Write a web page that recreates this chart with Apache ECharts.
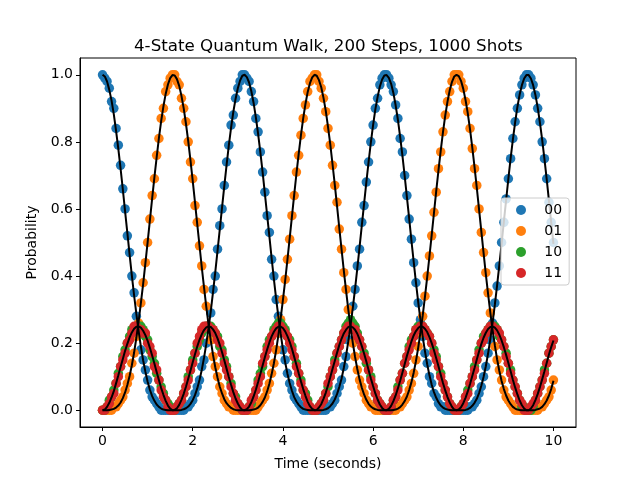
<!DOCTYPE html>
<html style="height: 100%">
<head>
    <meta charset="utf-8">
</head>
<body style="height: 100%; margin: 0; background: #fff">
    <div id="container" style="width: 640px; height: 480px"></div>
    <script src="https://cdn.jsdelivr.net/npm/echarts@6/dist/echarts.min.js"></script>
    <script type="text/javascript">
        // time axis, 200 steps of 0.05 s
        var time = [
            0.00, 0.05, 0.10, 0.15, 0.20, 0.25, 0.30, 0.35, 0.40, 0.45, 0.50, 0.55, 0.60, 0.65, 0.70, 0.75, 0.80, 0.85, 0.90, 0.95,
            1.00, 1.05, 1.10, 1.15, 1.20, 1.25, 1.30, 1.35, 1.40, 1.45, 1.50, 1.55, 1.60, 1.65, 1.70, 1.75, 1.80, 1.85, 1.90, 1.95,
            2.00, 2.05, 2.10, 2.15, 2.20, 2.25, 2.30, 2.35, 2.40, 2.45, 2.50, 2.55, 2.60, 2.65, 2.70, 2.75, 2.80, 2.85, 2.90, 2.95,
            3.00, 3.05, 3.10, 3.15, 3.20, 3.25, 3.30, 3.35, 3.40, 3.45, 3.50, 3.55, 3.60, 3.65, 3.70, 3.75, 3.80, 3.85, 3.90, 3.95,
            4.00, 4.05, 4.10, 4.15, 4.20, 4.25, 4.30, 4.35, 4.40, 4.45, 4.50, 4.55, 4.60, 4.65, 4.70, 4.75, 4.80, 4.85, 4.90, 4.95,
            5.00, 5.05, 5.10, 5.15, 5.20, 5.25, 5.30, 5.35, 5.40, 5.45, 5.50, 5.55, 5.60, 5.65, 5.70, 5.75, 5.80, 5.85, 5.90, 5.95,
            6.00, 6.05, 6.10, 6.15, 6.20, 6.25, 6.30, 6.35, 6.40, 6.45, 6.50, 6.55, 6.60, 6.65, 6.70, 6.75, 6.80, 6.85, 6.90, 6.95,
            7.00, 7.05, 7.10, 7.15, 7.20, 7.25, 7.30, 7.35, 7.40, 7.45, 7.50, 7.55, 7.60, 7.65, 7.70, 7.75, 7.80, 7.85, 7.90, 7.95,
            8.00, 8.05, 8.10, 8.15, 8.20, 8.25, 8.30, 8.35, 8.40, 8.45, 8.50, 8.55, 8.60, 8.65, 8.70, 8.75, 8.80, 8.85, 8.90, 8.95,
            9.00, 9.05, 9.10, 9.15, 9.20, 9.25, 9.30, 9.35, 9.40, 9.45, 9.50, 9.55, 9.60, 9.65, 9.70, 9.75, 9.80, 9.85, 9.90, 9.95,
            10.00
        ];

        // measured probabilities (1000 shots)
        var shots00 = [
            1.00, 0.99, 0.98, 0.96, 0.92, 0.90, 0.84, 0.79, 0.73, 0.66, 0.60, 0.52, 0.47, 0.40, 0.35, 0.28, 0.24, 0.18, 0.15, 0.12,
            0.09, 0.06, 0.04, 0.03, 0.02, 0.01, 0.00, 0.00, 0.00, 0.00, 0.00, 0.00, 0.00, 0.00, 0.00, 0.00, 0.00, 0.01, 0.01, 0.02,
            0.03, 0.05, 0.07, 0.09, 0.13, 0.15, 0.20, 0.25, 0.29, 0.36, 0.40, 0.48, 0.55, 0.60, 0.67, 0.74, 0.79, 0.85, 0.88, 0.93,
            0.96, 0.98, 1.00, 1.00, 0.99, 0.98, 0.95, 0.92, 0.87, 0.83, 0.77, 0.71, 0.65, 0.58, 0.53, 0.45, 0.40, 0.33, 0.28, 0.23,
            0.18, 0.15, 0.11, 0.08, 0.06, 0.04, 0.03, 0.02, 0.01, 0.00, 0.00, 0.00, 0.00, 0.00, 0.00, 0.00, 0.00, 0.00, 0.00, 0.00,
            0.01, 0.01, 0.02, 0.03, 0.05, 0.07, 0.09, 0.13, 0.16, 0.21, 0.25, 0.31, 0.36, 0.43, 0.48, 0.56, 0.61, 0.68, 0.74, 0.80,
            0.85, 0.90, 0.93, 0.97, 0.99, 1.00, 1.00, 0.99, 0.97, 0.95, 0.91, 0.87, 0.81, 0.77, 0.70, 0.64, 0.57, 0.51, 0.44, 0.38,
            0.32, 0.27, 0.22, 0.17, 0.14, 0.10, 0.08, 0.05, 0.04, 0.02, 0.01, 0.01, 0.00, 0.00, 0.00, 0.00, 0.00, 0.00, 0.00, 0.00,
            0.00, 0.00, 0.00, 0.01, 0.01, 0.02, 0.03, 0.05, 0.07, 0.10, 0.13, 0.17, 0.21, 0.26, 0.32, 0.37, 0.43, 0.50, 0.56, 0.63,
            0.69, 0.75, 0.81, 0.86, 0.90, 0.94, 0.97, 0.99, 1.00, 1.00, 0.99, 0.97, 0.94, 0.90, 0.86, 0.80, 0.75, 0.69, 0.62, 0.56,
            0.50
        ];
        var shots01 = [
            0.00, 0.00, 0.00, 0.00, 0.00, 0.01, 0.01, 0.02, 0.03, 0.04, 0.06, 0.08, 0.10, 0.14, 0.17, 0.22, 0.26, 0.32, 0.38, 0.44,
            0.50, 0.57, 0.64, 0.69, 0.76, 0.81, 0.87, 0.90, 0.95, 0.97, 0.99, 1.00, 1.00, 0.98, 0.97, 0.93, 0.90, 0.86, 0.80, 0.74,
            0.69, 0.61, 0.56, 0.49, 0.43, 0.36, 0.31, 0.25, 0.21, 0.16, 0.13, 0.10, 0.07, 0.05, 0.03, 0.02, 0.01, 0.01, 0.00, 0.00,
            0.00, 0.00, 0.00, 0.00, 0.00, 0.00, 0.00, 0.00, 0.00, 0.01, 0.02, 0.03, 0.04, 0.06, 0.08, 0.11, 0.14, 0.18, 0.23, 0.27,
            0.33, 0.39, 0.45, 0.51, 0.58, 0.64, 0.71, 0.76, 0.82, 0.87, 0.91, 0.95, 0.98, 0.99, 1.00, 1.00, 0.98, 0.96, 0.93, 0.89,
            0.84, 0.79, 0.73, 0.67, 0.62, 0.54, 0.48, 0.41, 0.36, 0.30, 0.25, 0.20, 0.16, 0.12, 0.09, 0.07, 0.05, 0.03, 0.02, 0.01,
            0.01, 0.00, 0.00, 0.00, 0.00, 0.00, 0.00, 0.00, 0.00, 0.00, 0.00, 0.01, 0.01, 0.02, 0.03, 0.04, 0.06, 0.08, 0.11, 0.15,
            0.19, 0.23, 0.28, 0.34, 0.40, 0.46, 0.52, 0.59, 0.65, 0.72, 0.77, 0.83, 0.88, 0.92, 0.95, 0.98, 1.00, 1.00, 1.00, 0.98,
            0.96, 0.92, 0.89, 0.84, 0.78, 0.72, 0.67, 0.60, 0.53, 0.47, 0.41, 0.35, 0.29, 0.24, 0.19, 0.15, 0.12, 0.09, 0.06, 0.04,
            0.03, 0.02, 0.01, 0.00, 0.00, 0.00, 0.00, 0.00, 0.00, 0.00, 0.00, 0.00, 0.00, 0.00, 0.01, 0.01, 0.02, 0.03, 0.04, 0.06,
            0.09
        ];
        var shots10 = [
            0.00, 0.00, 0.01, 0.03, 0.04, 0.06, 0.08, 0.11, 0.13, 0.16, 0.18, 0.20, 0.22, 0.24, 0.24, 0.25, 0.25, 0.25, 0.24, 0.22,
            0.21, 0.18, 0.16, 0.14, 0.11, 0.09, 0.07, 0.05, 0.03, 0.02, 0.01, 0.00, 0.00, 0.01, 0.02, 0.03, 0.05, 0.07, 0.10, 0.12,
            0.15, 0.17, 0.19, 0.21, 0.23, 0.24, 0.25, 0.25, 0.25, 0.24, 0.23, 0.22, 0.19, 0.18, 0.15, 0.13, 0.10, 0.08, 0.05, 0.04,
            0.02, 0.01, 0.00, 0.00, 0.00, 0.01, 0.02, 0.04, 0.06, 0.09, 0.11, 0.13, 0.16, 0.19, 0.21, 0.22, 0.24, 0.25, 0.26, 0.26,
            0.25, 0.24, 0.22, 0.21, 0.19, 0.16, 0.14, 0.11, 0.09, 0.06, 0.05, 0.03, 0.01, 0.00, 0.00, 0.00, 0.01, 0.02, 0.03, 0.05,
            0.07, 0.10, 0.12, 0.15, 0.17, 0.19, 0.21, 0.23, 0.25, 0.26, 0.27, 0.26, 0.25, 0.23, 0.21, 0.19, 0.17, 0.14, 0.12, 0.10,
            0.07, 0.05, 0.03, 0.02, 0.01, 0.00, 0.00, 0.00, 0.01, 0.03, 0.04, 0.07, 0.09, 0.11, 0.14, 0.16, 0.19, 0.21, 0.22, 0.24,
            0.25, 0.25, 0.25, 0.24, 0.23, 0.22, 0.20, 0.18, 0.16, 0.13, 0.11, 0.08, 0.06, 0.04, 0.02, 0.01, 0.00, 0.00, 0.00, 0.01,
            0.02, 0.04, 0.06, 0.08, 0.10, 0.13, 0.15, 0.18, 0.20, 0.22, 0.23, 0.24, 0.25, 0.25, 0.25, 0.24, 0.22, 0.21, 0.19, 0.17,
            0.14, 0.12, 0.09, 0.07, 0.05, 0.03, 0.01, 0.01, 0.00, 0.00, 0.00, 0.01, 0.03, 0.05, 0.07, 0.09, 0.12, 0.14, 0.17, 0.19,
            0.21
        ];
        var shots11 = [
            0.00, 0.00, 0.01, 0.02, 0.04, 0.05, 0.08, 0.10, 0.13, 0.15, 0.17, 0.20, 0.21, 0.23, 0.25, 0.25, 0.24, 0.24, 0.23, 0.23,
            0.20, 0.19, 0.17, 0.13, 0.12, 0.09, 0.06, 0.04, 0.03, 0.01, 0.00, 0.00, 0.00, 0.01, 0.02, 0.03, 0.05, 0.07, 0.09, 0.12,
            0.14, 0.17, 0.20, 0.22, 0.24, 0.25, 0.25, 0.25, 0.24, 0.24, 0.23, 0.21, 0.20, 0.17, 0.14, 0.12, 0.10, 0.07, 0.05, 0.03,
            0.02, 0.01, 0.00, 0.00, 0.00, 0.01, 0.03, 0.04, 0.06, 0.08, 0.10, 0.14, 0.16, 0.18, 0.20, 0.22, 0.23, 0.24, 0.25, 0.25,
            0.24, 0.23, 0.22, 0.20, 0.18, 0.16, 0.13, 0.11, 0.08, 0.06, 0.04, 0.02, 0.01, 0.00, 0.00, 0.00, 0.01, 0.02, 0.03, 0.05,
            0.08, 0.10, 0.12, 0.14, 0.17, 0.19, 0.21, 0.23, 0.24, 0.25, 0.25, 0.24, 0.24, 0.22, 0.21, 0.19, 0.16, 0.15, 0.12, 0.09,
            0.07, 0.05, 0.03, 0.02, 0.01, 0.00, 0.00, 0.00, 0.01, 0.03, 0.04, 0.06, 0.09, 0.11, 0.14, 0.16, 0.18, 0.20, 0.22, 0.24,
            0.24, 0.25, 0.25, 0.24, 0.23, 0.22, 0.20, 0.17, 0.15, 0.13, 0.10, 0.08, 0.06, 0.04, 0.02, 0.01, 0.00, 0.00, 0.00, 0.01,
            0.02, 0.04, 0.05, 0.08, 0.10, 0.12, 0.15, 0.17, 0.20, 0.21, 0.23, 0.24, 0.25, 0.25, 0.24, 0.24, 0.23, 0.21, 0.19, 0.16,
            0.14, 0.11, 0.09, 0.07, 0.05, 0.03, 0.02, 0.00, 0.00, 0.00, 0.01, 0.02, 0.03, 0.05, 0.07, 0.09, 0.11, 0.14, 0.17, 0.19,
            0.21
        ];

        // expected probabilities (black curves)
        var exact00 = [
            1.000, 0.995, 0.980, 0.955, 0.923, 0.882, 0.833, 0.779, 0.720, 0.658, 0.593, 0.529, 0.464, 0.401, 0.342, 0.287, 0.236, 0.190, 0.149, 0.115,
            0.085, 0.061, 0.042, 0.028, 0.017, 0.010, 0.005, 0.002, 0.001, 0.000, 0.000, 0.000, 0.000, 0.000, 0.000, 0.001, 0.003, 0.006, 0.011, 0.019,
            0.030, 0.045, 0.065, 0.090, 0.120, 0.156, 0.197, 0.244, 0.295, 0.352, 0.412, 0.475, 0.539, 0.604, 0.668, 0.730, 0.789, 0.842, 0.889, 0.928,
            0.960, 0.983, 0.997, 1.000, 0.993, 0.977, 0.951, 0.916, 0.873, 0.824, 0.769, 0.710, 0.646, 0.582, 0.518, 0.453, 0.391, 0.332, 0.278, 0.228,
            0.182, 0.143, 0.109, 0.081, 0.058, 0.039, 0.026, 0.016, 0.009, 0.004, 0.002, 0.001, 0.000, 0.000, 0.000, 0.000, 0.000, 0.000, 0.001, 0.003,
            0.006, 0.012, 0.020, 0.032, 0.048, 0.069, 0.094, 0.126, 0.162, 0.205, 0.253, 0.305, 0.362, 0.423, 0.486, 0.551, 0.615, 0.679, 0.740, 0.798,
            0.850, 0.897, 0.934, 0.965, 0.986, 0.998, 0.999, 0.991, 0.973, 0.946, 0.909, 0.866, 0.815, 0.760, 0.699, 0.635, 0.572, 0.506, 0.443, 0.381,
            0.323, 0.269, 0.219, 0.176, 0.137, 0.104, 0.076, 0.054, 0.037, 0.024, 0.014, 0.008, 0.004, 0.002, 0.001, 0.000, 0.000, 0.000, 0.000, 0.000,
            0.000, 0.001, 0.003, 0.007, 0.013, 0.022, 0.034, 0.051, 0.073, 0.099, 0.131, 0.169, 0.212, 0.261, 0.314, 0.372, 0.433, 0.496, 0.562, 0.626,
            0.690, 0.751, 0.807, 0.858, 0.904, 0.941, 0.969, 0.989, 0.999, 0.999, 0.989, 0.969, 0.940, 0.903, 0.857, 0.806, 0.749, 0.689, 0.625, 0.560,
            0.496
        ];
        var exact01 = [
            0.000, 0.000, 0.000, 0.001, 0.002, 0.004, 0.008, 0.014, 0.023, 0.036, 0.053, 0.075, 0.102, 0.134, 0.172, 0.216, 0.265, 0.319, 0.376, 0.438,
            0.501, 0.566, 0.631, 0.694, 0.754, 0.811, 0.862, 0.906, 0.943, 0.971, 0.990, 0.999, 0.998, 0.987, 0.967, 0.937, 0.900, 0.854, 0.802, 0.745,
            0.684, 0.620, 0.555, 0.491, 0.427, 0.367, 0.309, 0.256, 0.208, 0.165, 0.128, 0.097, 0.070, 0.050, 0.033, 0.021, 0.013, 0.007, 0.003, 0.001,
            0.000, 0.000, 0.000, 0.000, 0.000, 0.000, 0.001, 0.002, 0.004, 0.008, 0.015, 0.025, 0.038, 0.056, 0.079, 0.107, 0.140, 0.179, 0.224, 0.274,
            0.328, 0.386, 0.448, 0.512, 0.577, 0.642, 0.705, 0.764, 0.820, 0.870, 0.913, 0.949, 0.975, 0.992, 1.000, 0.997, 0.984, 0.963, 0.931, 0.893,
            0.845, 0.793, 0.734, 0.673, 0.609, 0.544, 0.480, 0.417, 0.357, 0.300, 0.248, 0.201, 0.159, 0.123, 0.092, 0.067, 0.047, 0.031, 0.019, 0.011,
            0.006, 0.003, 0.001, 0.000, 0.000, 0.000, 0.000, 0.000, 0.000, 0.001, 0.002, 0.005, 0.009, 0.017, 0.027, 0.041, 0.060, 0.083, 0.112, 0.146,
            0.186, 0.232, 0.282, 0.338, 0.397, 0.459, 0.523, 0.588, 0.653, 0.715, 0.774, 0.829, 0.878, 0.920, 0.954, 0.979, 0.995, 1.000, 0.996, 0.982,
            0.958, 0.925, 0.885, 0.837, 0.783, 0.725, 0.663, 0.599, 0.534, 0.469, 0.406, 0.347, 0.291, 0.239, 0.194, 0.152, 0.117, 0.087, 0.063, 0.044,
            0.029, 0.018, 0.010, 0.005, 0.002, 0.001, 0.000, 0.000, 0.000, 0.000, 0.000, 0.000, 0.001, 0.003, 0.005, 0.010, 0.018, 0.029, 0.044, 0.063,
            0.088
        ];
        var exact10 = [
            0.000, 0.002, 0.010, 0.022, 0.038, 0.057, 0.080, 0.104, 0.129, 0.153, 0.177, 0.198, 0.217, 0.232, 0.243, 0.249, 0.250, 0.246, 0.237, 0.224,
            0.207, 0.186, 0.163, 0.139, 0.114, 0.090, 0.066, 0.046, 0.028, 0.014, 0.005, 0.000, 0.001, 0.006, 0.016, 0.031, 0.049, 0.070, 0.094, 0.118,
            0.143, 0.167, 0.190, 0.210, 0.226, 0.239, 0.247, 0.250, 0.248, 0.241, 0.230, 0.214, 0.195, 0.173, 0.149, 0.124, 0.099, 0.076, 0.054, 0.035,
            0.020, 0.008, 0.001, 0.000, 0.003, 0.011, 0.024, 0.041, 0.061, 0.084, 0.108, 0.133, 0.158, 0.181, 0.202, 0.220, 0.234, 0.244, 0.249, 0.249,
            0.245, 0.235, 0.221, 0.204, 0.183, 0.159, 0.135, 0.110, 0.086, 0.063, 0.043, 0.025, 0.012, 0.004, 0.000, 0.001, 0.008, 0.018, 0.034, 0.052,
            0.074, 0.098, 0.123, 0.147, 0.171, 0.194, 0.213, 0.229, 0.240, 0.248, 0.250, 0.247, 0.240, 0.228, 0.211, 0.191, 0.169, 0.145, 0.120, 0.095,
            0.072, 0.050, 0.032, 0.017, 0.007, 0.001, 0.000, 0.004, 0.013, 0.027, 0.044, 0.065, 0.088, 0.112, 0.137, 0.162, 0.184, 0.205, 0.223, 0.236,
            0.245, 0.250, 0.249, 0.243, 0.233, 0.218, 0.200, 0.179, 0.155, 0.131, 0.106, 0.081, 0.059, 0.039, 0.023, 0.010, 0.002, 0.000, 0.002, 0.009,
            0.021, 0.037, 0.056, 0.078, 0.102, 0.126, 0.151, 0.175, 0.197, 0.216, 0.231, 0.242, 0.248, 0.250, 0.246, 0.238, 0.225, 0.208, 0.188, 0.165,
            0.141, 0.116, 0.091, 0.068, 0.047, 0.029, 0.015, 0.005, 0.000, 0.000, 0.005, 0.015, 0.030, 0.048, 0.069, 0.092, 0.116, 0.141, 0.166, 0.188,
            0.208
        ];

        var states = ['00', '01', '10', '11'];
        var stateColors = ['#1f77b4', '#ff7f0e', '#2ca02c', '#d62728'];
        var xTicks = [0, 2, 4, 6, 8, 10];
        var yTicks = [0, 0.2, 0.4, 0.6, 0.8, 1.0];

        function pairs(ys) {
            return time.map(function(t, i) { return [t, ys[i]]; });
        }

        var dom = document.getElementById("container");
        var myChart = echarts.init(dom, null, { renderer: 'canvas' });
        var font = 'DejaVu Sans';

        var series = [shots00, shots01, shots10, shots11].map(function(d, i) {
            return {
                name: states[i],
                type: 'scatter',
                data: pairs(d),
                symbol: 'circle',
                symbolSize: 9.5,
                itemStyle: { color: stateColors[i], opacity: 1 },
                z: 2
            };
        });
        [exact00, exact01, exact10].forEach(function(d) {
            series.push({
                type: 'line',
                data: pairs(d),
                showSymbol: false,
                lineStyle: { color: '#000', width: 2 },
                z: 3,
                silent: true
            });
        });

        var option = {
            animation: false,
            backgroundColor: '#fff',
            title: {
                text: '4-State Quantum Walk, 200 Steps, 1000 Shots',
                left: 129,
                top: 33,
                textStyle: { fontFamily: font, fontSize: 16.7, fontWeight: 'normal', color: '#000' }
            },
            legend: {
                data: states,
                orient: 'vertical',
                left: 501,
                top: 198,
                icon: 'circle',
                itemWidth: 10,
                itemHeight: 10,
                itemGap: 7,
                padding: [5, 7, 5, 15],
                borderColor: '#cccccc',
                borderWidth: 1,
                borderRadius: 3,
                backgroundColor: 'rgba(255,255,255,0.8)',
                formatter: function(name) { return '\u00a0\u00a0\u00a0' + name; },
                textStyle: { fontFamily: font, fontSize: 14, color: '#000' }
            },
            grid: {
                left: 80, right: 64, top: 58, bottom: 53,
                show: true, borderColor: '#000', borderWidth: 1, backgroundColor: 'transparent'
            },
            xAxis: {
                type: 'value',
                min: -0.5,
                max: 10.5,
                name: 'Time (seconds)',
                nameLocation: 'middle',
                nameGap: 30,
                nameTextStyle: { fontFamily: font, fontSize: 14, color: '#000' },
                axisLine: { onZero: false, lineStyle: { color: '#000' } },
                axisTick: { customValues: xTicks, length: 4, lineStyle: { color: '#000' } },
                axisLabel: { customValues: xTicks, fontFamily: font, fontSize: 14, color: '#000', margin: 7 },
                splitLine: { show: false }
            },
            yAxis: {
                type: 'value',
                min: -0.05,
                max: 1.05,
                name: 'Probability',
                nameLocation: 'middle',
                nameGap: 38,
                nameTextStyle: { fontFamily: font, fontSize: 14, color: '#000' },
                axisLine: { show: true, onZero: false, lineStyle: { color: '#000' } },
                axisTick: { show: true, customValues: yTicks, length: 4, lineStyle: { color: '#000' } },
                axisLabel: {
                    customValues: yTicks, fontFamily: font, fontSize: 14, color: '#000', margin: 7,
                    formatter: function(v) { return v.toFixed(1); }
                },
                splitLine: { show: false }
            },
            series: series
        };

        myChart.setOption(option);
    </script>
</body>
</html>
